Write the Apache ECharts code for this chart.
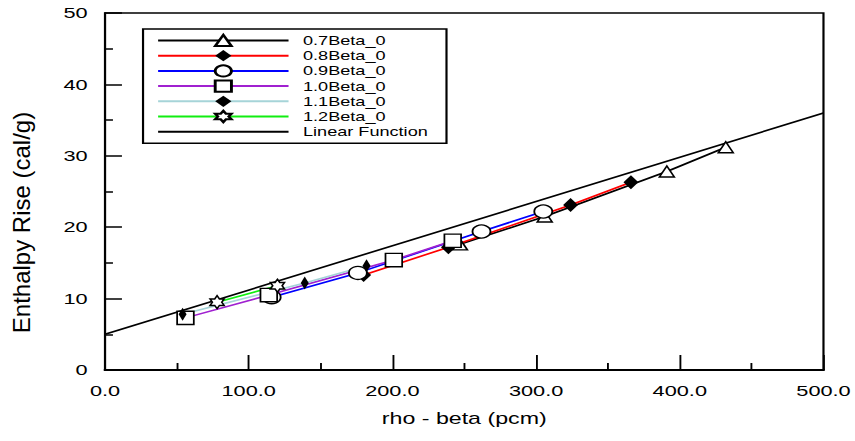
<!DOCTYPE html>
<html>
<head>
<meta charset="utf-8">
<script src="https://cdn.jsdelivr.net/npm/echarts@6.0.0/dist/echarts.min.js"></script>
<style>
  html, body { margin: 0; padding: 0; background: #fff; overflow: hidden; }
  #wrap { width: 855px; height: 441px; overflow: hidden; }
  /* the plot is laid out narrow and widened horizontally */
  #chart { width: 590px; height: 441px; transform: scaleX(1.4492); transform-origin: 0 0; }
</style>
</head>
<body>
<div id="wrap"><div id="chart"></div></div>
<script>
// [rho - beta (pcm), enthalpy rise (cal/g)] for each delayed-neutron fraction case
const beta07 = [[247, 17.6], [306, 21.5], [391, 27.8], [432, 31.2]];
const beta08 = [[180, 13.3], [239, 17.2], [324, 23.1], [366, 26.3]];
const beta09 = [[116, 10.2], [176, 13.6], [262, 19.4], [305, 22.2]];
const beta10 = [[56, 7.3], [114, 10.5], [201, 15.4], [242, 18.1]];
const beta11 = [[54, 7.8], [139, 12.2], [182, 14.6]];
const beta12 = [[78, 9.5], [120, 11.8]];
const linearFit = [[0, 5], [500, 36]];

const seriesNames = ['0.7Beta_0', '0.8Beta_0', '0.9Beta_0', '1.0Beta_0', '1.1Beta_0', '1.2Beta_0', 'Linear Function'];
const xTicks = { min: 0, max: 500, step: 100 };
const yTicks = { min: 0, max: 50, step: 10 };
const yTitle = 'Enthalpy Rise (cal/g)';
const xTitle = 'rho - beta (pcm)';

const FONT = '"Liberation Sans", Arial, sans-serif';
const STAR6 = 'path://M0,-100L28.87,-50L86.6,-50L57.74,0L86.6,50L28.87,50L0,100L-28.87,50L-86.6,50L-57.74,0L-86.6,-50L-28.87,-50Z';

const hollow = { color: '#ffffff', borderColor: '#000000', borderWidth: 1.3 };
const solid = { color: '#000000', borderWidth: 0 };

function caseSeries(name, data, color, symbol, size, itemStyle) {
  return {
    name: name,
    type: 'line',
    data: data,
    symbol: symbol,
    symbolSize: size,
    showSymbol: true,
    lineStyle: { color: color, width: 1.6 },
    itemStyle: itemStyle,
    emphasis: { disabled: true },
    z: 3
  };
}

// legend entries; the fitted line shows no marker
const legendData = seriesNames.map(n => n === 'Linear Function'
  ? { name: n, itemStyle: { color: 'rgba(0,0,0,0)', borderWidth: 0, opacity: 0 } }
  : { name: n });

const chart = echarts.init(document.getElementById('chart'), null, { renderer: 'svg' });
chart.setOption({
  animation: false,
  backgroundColor: '#ffffff',
  textStyle: { fontFamily: FONT, color: '#000' },
  grid: {
    left: 72.45, right: 21.4, top: 13, bottom: 71,
    show: true, borderColor: '#000', borderWidth: 1.5, backgroundColor: 'transparent'
  },
  legend: {
    orient: 'vertical',
    left: 98.7, top: 29,
    data: legendData,
    itemWidth: 90, itemHeight: 14, itemGap: 1.2,
    padding: [4.5, 9, 4.5, 9.4],
    backgroundColor: '#fff',
    borderColor: '#000', borderWidth: 1.5, borderRadius: 0,
    selectedMode: false,
    textStyle: { fontFamily: FONT, fontSize: 12.5, color: '#000', padding: [0, 0, 0, 5], width: 90, lineHeight: 14 }
  },
  graphic: [{
    type: 'text',
    x: 15.2, y: 222.5,
    rotation: Math.PI / 2,
    scaleY: 0.68,
    silent: true,
    style: {
      text: yTitle,
      fontFamily: FONT, fontSize: 24, fill: '#000',
      align: 'center', verticalAlign: 'middle'
    }
  }],
  xAxis: {
    type: 'value',
    min: xTicks.min, max: xTicks.max, interval: xTicks.step,
    name: xTitle, nameLocation: 'middle', nameGap: 40,
    nameTextStyle: { fontFamily: FONT, fontSize: 16, color: '#000' },
    axisLine: { show: true, onZero: false, lineStyle: { color: '#000', width: 2 } },
    axisTick: { show: true, inside: true, length: 15, lineStyle: { color: '#000', width: 1.3 } },
    minorTick: { show: true, splitNumber: 2, length: 7, lineStyle: { color: '#000', width: 1.3 } },
    axisLabel: { fontFamily: FONT, fontSize: 15, color: '#000', margin: 13, formatter: v => v.toFixed(1) },
    splitLine: { show: false }
  },
  yAxis: {
    type: 'value',
    min: yTicks.min, max: yTicks.max, interval: yTicks.step,
    axisLine: { show: true, onZero: false, lineStyle: { color: '#000', width: 1.4 } },
    axisTick: { show: true, inside: true, length: 11.7, lineStyle: { color: '#000', width: 1.5 } },
    minorTick: { show: true, splitNumber: 2, length: 5.5, lineStyle: { color: '#000', width: 1.5 } },
    axisLabel: { fontFamily: FONT, fontSize: 15, color: '#000', margin: 12 },
    splitLine: { show: false }
  },
  series: [
    {
      name: 'Linear Function', type: 'line', data: linearFit,
      symbol: 'none', lineStyle: { color: '#000', width: 1.6 },
      itemStyle: { color: '#000' }, emphasis: { disabled: true }, z: 2
    },
    caseSeries('0.7Beta_0', beta07, '#000000', 'triangle', [10.3, 11], hollow),
    caseSeries('0.8Beta_0', beta08, '#ff0000', 'diamond', [10.3, 14], solid),
    caseSeries('0.9Beta_0', beta09, '#0000ff', 'circle', [12.4, 13], hollow),
    caseSeries('1.0Beta_0', beta10, '#a020d0', 'rect', [11.5, 13.3], hollow),
    caseSeries('1.1Beta_0', beta11, '#a6d4d8', 'diamond', [5.5, 13], solid),
    caseSeries('1.2Beta_0', beta12, '#11ee11', STAR6, [9.7, 13], hollow)
  ]
});
</script>
</body>
</html>
